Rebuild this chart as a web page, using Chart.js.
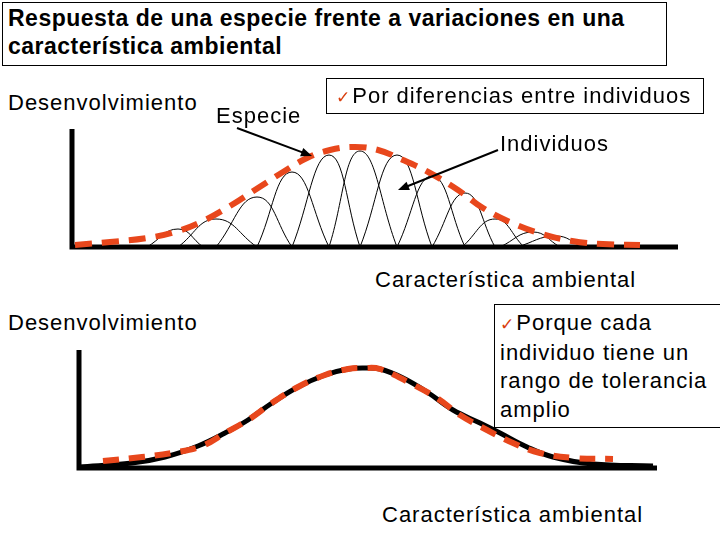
<!DOCTYPE html>
<html><head><meta charset="utf-8">
<script src="https://cdn.jsdelivr.net/npm/chart.js@4.4.0/dist/chart.umd.min.js"></script>
<style>
html,body{margin:0;padding:0;background:#fff;}
body{width:720px;height:540px;position:relative;overflow:hidden;font-family:"Liberation Sans",Arial,sans-serif;color:#000;}
.t{position:absolute;white-space:nowrap;font-size:22px;line-height:24px;letter-spacing:1px;}
.box{position:absolute;border:1px solid #000;box-sizing:border-box;background:#fff;}
canvas{position:absolute;left:0;}
.ck{color:#d9400f;font-family:"DejaVu Sans",sans-serif;font-size:17px;letter-spacing:2px;}
</style></head><body>
<div class="box" style="left:2px;top:2px;width:665px;height:64px;"></div>
<div class="t" style="left:8px;top:4px;font-weight:bold;font-size:23px;line-height:28px;letter-spacing:0.5px;">Respuesta de una especie frente a variaciones en una<br>característica ambiental</div>

<canvas id="top" width="720" height="140" style="top:120px;"></canvas>
<canvas id="bot" width="720" height="140" style="top:340px;"></canvas>

<div class="t" style="left:8px;top:91px;">Desenvolvimiento</div>
<div class="t" style="left:216px;top:104px;">Especie</div>
<div class="box" style="left:326px;top:78px;width:378px;height:36px;"></div>
<div class="t" style="left:336px;top:84px;"><span class="ck">✓</span>Por diferencias entre individuos</div>
<div class="t" style="left:500px;top:132px;">Individuos</div>
<div class="t" style="left:375px;top:268px;">Característica ambiental</div>

<div class="t" style="left:8px;top:311px;">Desenvolvimiento</div>
<div class="box" style="left:494px;top:304px;width:230px;height:124px;"></div>
<div class="t" style="left:500px;top:309px;line-height:28.7px;"><span class="ck">✓</span>Porque cada<br>individuo tiene un<br>rango de tolerancia<br>amplio</div>
<div class="t" style="left:382px;top:503px;">Característica ambiental</div>

<script>
// ---- Top chart: species response (dashed) and individuals ----
const speciesX = [3, 38, 75, 103, 131, 158, 186, 211, 235, 258, 283, 306, 331, 358, 386, 411, 440, 470, 500, 531, 568];
const speciesY = [2, 5, 9, 15, 26, 41, 59, 75, 89, 97, 100, 97, 87, 74, 57, 39, 24, 13, 6, 3, 2];

const indivPeakX = [106, 144, 185, 220, 257, 288, 325, 360, 393, 423, 461, 484];
const indivPeakY = [18, 28, 50, 75, 92, 96, 92, 71, 54, 28, 15, 11];
const indivStart = [75, 106, 144, 185, 220, 257, 288, 325, 360, 390, 428, 445];
const indivEnd   = [131, 185, 220, 257, 288, 325, 360, 393, 423, 452, 488, 511];

// ---- Bottom chart: individual with wide tolerance (black) and species (dashed) ----
const wideX = [0, 53, 86, 119, 146, 169, 193, 219, 246, 269, 286, 301, 324, 348, 374, 401, 421, 448, 474, 514, 574];
const wideY = [1, 5, 11, 22, 35, 48, 65, 81, 93, 99, 100, 99, 90, 76, 58, 45, 35, 21, 11, 4, 2];
const species2X = [24, 63, 93, 123, 146, 169, 193, 219, 246, 269, 286, 301, 331, 358, 381, 408, 434, 461, 495, 534];
const species2Y = [7, 11, 15, 22, 35, 48, 65, 81, 93, 99, 100, 99, 85, 70, 53, 38, 25, 15, 10, 9];

const RED = '#e8471c';

const toPts = (xs, ys) => xs.map((x, i) => ({x: x, y: ys[i]}));

const axesPlugin = {
  id: 'axesLines',
  beforeDatasetsDraw(chart) {
    const {ctx, scales: {x, y}} = chart;
    const x0 = x.getPixelForValue(x.min), x1 = x.getPixelForValue(x.max);
    const y0 = y.getPixelForValue(0), y1 = y.getPixelForValue(y.max);
    ctx.save();
    ctx.strokeStyle = '#000';
    ctx.lineWidth = 5;
    ctx.lineCap = 'butt';
    ctx.beginPath();
    ctx.moveTo(x0, y1); ctx.lineTo(x0, y0 + 2.5);
    ctx.moveTo(x0 - 2.5, y0); ctx.lineTo(x1, y0);
    ctx.stroke();
    ctx.restore();
  }
};

// annotation arrows (tail -> tip), in data units of the top chart
const arrowTails = [[165, 119], [426, 97]];
const arrowTips  = [[240, 91], [326, 57]];

const arrowPlugin = {
  id: 'arrows',
  afterDatasetsDraw(chart) {
    const {ctx, scales: {x, y}} = chart;
    ctx.save();
    ctx.strokeStyle = '#000';
    ctx.fillStyle = '#000';
    ctx.lineWidth = 2;
    arrowTails.forEach((t, i) => {
      const tx = x.getPixelForValue(t[0]), ty = y.getPixelForValue(t[1]);
      const hx = x.getPixelForValue(arrowTips[i][0]), hy = y.getPixelForValue(arrowTips[i][1]);
      const a = Math.atan2(hy - ty, hx - tx);
      const L = 11, W = 4.5;
      ctx.beginPath();
      ctx.moveTo(tx, ty);
      ctx.lineTo(hx - L * Math.cos(a) * 0.8, hy - L * Math.sin(a) * 0.8);
      ctx.stroke();
      ctx.beginPath();
      ctx.moveTo(hx, hy);
      ctx.lineTo(hx - L * Math.cos(a) - W * Math.sin(a), hy - L * Math.sin(a) + W * Math.cos(a));
      ctx.lineTo(hx - L * Math.cos(a) + W * Math.sin(a), hy - L * Math.sin(a) - W * Math.cos(a));
      ctx.closePath();
      ctx.fill();
    });
    ctx.restore();
  }
};

const baseOptions = (padding, xmax) => ({
  responsive: false,
  animation: false,
  events: [],
  layout: {padding: padding},
  plugins: {legend: {display: false}, tooltip: {enabled: false}},
  scales: {
    x: {type: 'linear', min: 0, max: xmax, display: false},
    y: {type: 'linear', min: 0, max: 118, display: false}
  }
});

const indivDatasets = indivPeakX.map((px, i) => ({
  data: [{x: indivStart[i], y: 0}, {x: px, y: indivPeakY[i]}, {x: indivEnd[i], y: 0}],
  borderColor: '#000',
  borderWidth: 1,
  tension: 0.45,
  pointRadius: 0,
  fill: false,
  clip: false
}));

new Chart(document.getElementById('top'), {
  type: 'line',
  data: {
    datasets: [{
      data: toPts(speciesX, speciesY),
      borderColor: RED,
      borderWidth: 6,
      borderDash: [17, 10],
      borderCapStyle: 'butt',
      tension: 0.4,
      pointRadius: 0,
      fill: false,
      clip: false
    }].concat(indivDatasets)
  },
  options: baseOptions({left: 72, right: 42, top: 9, bottom: 13}, 606),
  plugins: [axesPlugin, arrowPlugin]
});

new Chart(document.getElementById('bot'), {
  type: 'line',
  data: {
    datasets: [{
      data: toPts(species2X, species2Y),
      borderColor: RED,
      borderWidth: 6,
      borderDash: [16, 10],
      borderCapStyle: 'butt',
      tension: 0.4,
      pointRadius: 0,
      fill: false,
      clip: false
    }, {
      data: toPts(wideX, wideY),
      borderColor: '#000',
      borderWidth: 5,
      tension: 0.4,
      pointRadius: 0,
      fill: false,
      clip: false
    }]
  },
  options: baseOptions({left: 79, right: 63, top: 10, bottom: 12}, 578),
  plugins: [axesPlugin]
});
</script>
</body></html>
